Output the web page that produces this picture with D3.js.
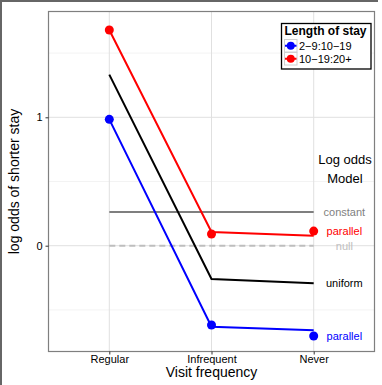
<!DOCTYPE html>
<html><head><meta charset="utf-8">
<script src="https://cdn.jsdelivr.net/npm/d3@7"></script>
<style>
body{margin:0;background:#fff;}
svg{display:block;font-family:"Liberation Sans",Arial,sans-serif;}
</style></head>
<body><svg id="c" width="382" height="385"></svg>
<script>
const categories = ["Regular", "Infrequent", "Never"];
const seriesNames = ["2\u22129:10\u221219", "10\u221219:20+"];
const obsShort = [0.984, -0.618, -0.703];
const obsLong = [1.680, 0.091, 0.114];
const parallelShort = [0.984, -0.631, -0.659];
const parallelLong = [1.680, 0.107, 0.078];
const uniformFit = [1.332, -0.259, -0.293];
const constantFit = [0.262, 0.262, 0.262];
const nullFit = [0, 0, 0];
const yTicks = [0, 1];
const yMinor = [-0.5, 0.5, 1.5];

const svg = d3.select("#c");
const L = 48.5, R = 374.5, T = 11.5, B = 351.5;
const x = d3.scaleLinear().domain([0.405, 3.595]).range([L, R]);
const y = d3.scaleLinear().domain([-0.824, 1.824]).range([B, T]);
const xi = i => x(i + 1);

// outer frame (top & left)
svg.append("line").attr("x1",0).attr("x2",378).attr("y1",1).attr("y2",1).attr("stroke","#666").attr("stroke-width",2);
svg.append("line").attr("x1",1).attr("x2",1).attr("y1",0).attr("y2",385).attr("stroke","#666").attr("stroke-width",2);

// grid
const g = svg.append("g");
yMinor.forEach(v => g.append("line").attr("x1",L).attr("x2",R).attr("y1",y(v)).attr("y2",y(v)).attr("stroke","#f3f3f3").attr("stroke-width",1));
yTicks.forEach(v => g.append("line").attr("x1",L).attr("x2",R).attr("y1",y(v)).attr("y2",y(v)).attr("stroke","#e0e0e0").attr("stroke-width",1));
categories.forEach((c,i) => g.append("line").attr("x1",xi(i)).attr("x2",xi(i)).attr("y1",T).attr("y2",B).attr("stroke","#e0e0e0").attr("stroke-width",1));

// panel border
svg.append("rect").attr("x",L).attr("y",T).attr("width",R-L).attr("height",B-T).attr("fill","none").attr("stroke","#7f7f7f").attr("stroke-width",1.2);

// axes
const xAxis = d3.axisBottom(x).tickValues([1,2,3]).tickFormat(d => categories[d-1]).tickSize(3).tickPadding(1);
const gx = svg.append("g").attr("transform",`translate(0,${B})`).call(xAxis);
gx.select(".domain").remove();
gx.selectAll("text").attr("font-size",11).attr("fill","#000").attr("font-family","Liberation Sans, Arial, sans-serif");
gx.selectAll("line").attr("stroke","#333");
const yAxis = d3.axisLeft(y).tickValues(yTicks).tickFormat(d3.format("d")).tickSize(3).tickPadding(3);
const gy = svg.append("g").attr("transform",`translate(${L},0)`).call(yAxis);
gy.select(".domain").remove();
gy.selectAll("text").attr("font-size",11).attr("fill","#000").attr("font-family","Liberation Sans, Arial, sans-serif");
gy.selectAll("line").attr("stroke","#333");

svg.append("text").attr("x",(L+R)/2).attr("y",377).attr("text-anchor","middle").attr("font-size",14).text("Visit frequency");
svg.append("text").attr("transform",`translate(19,${(T+B)/2}) rotate(-90)`).attr("text-anchor","middle").attr("font-size",14).text("log odds of shorter stay");

const line = d3.line().x((d,i) => xi(i)).y(d => y(d));
function drawLine(data, color, width, dash){
  const p = svg.append("path").datum(data).attr("d",line).attr("fill","none").attr("stroke",color).attr("stroke-width",width);
  if (dash) p.attr("stroke-dasharray",dash);
}
drawLine(nullFit, "#bebebe", 2, "6,4");
drawLine(constantFit, "#7f7f7f", 2);
drawLine(uniformFit, "#000", 2);
drawLine(parallelShort, "#0000ff", 2);
drawLine(parallelLong, "#ff0000", 2);

function drawPts(data, color){
  svg.append("g").selectAll("circle").data(data).join("circle")
    .attr("cx",(d,i)=>xi(i)).attr("cy",d=>y(d)).attr("r",4.5).attr("fill",color);
}
drawPts(obsShort, "#0000ff");
drawPts(obsLong, "#ff0000");

// model labels
const lx = x(3.3);
function lab(v, txt, color, size, dy){
  svg.append("text").attr("x",lx).attr("y",y(v)).attr("dy",dy||"0.35em").attr("text-anchor","middle").attr("font-size",size||11).attr("fill",color).text(txt);
}
lab(constantFit[2], "constant", "#7f7f7f");
lab(obsLong[2], "parallel", "#ff0000");
lab(nullFit[2], "null", "#bebebe");
lab(uniformFit[2], "uniform", "#000");
lab(obsShort[2], "parallel", "#0000ff");
svg.append("text").attr("x",345).attr("y",164).attr("text-anchor","middle").attr("font-size",13).text("Log odds");
svg.append("text").attr("x",345).attr("y",183).attr("text-anchor","middle").attr("font-size",13).text("Model");

// legend
const lg = svg.append("g");
lg.append("rect").attr("x",281.5).attr("y",23.5).attr("width",89.5).attr("height",45.5).attr("fill","#fff").attr("stroke","#000").attr("stroke-width",1.3);
lg.append("text").attr("x",284.5).attr("y",35).attr("font-size",12).attr("font-weight","bold").text("Length of stay");
const colors = ["#0000ff","#ff0000"];
seriesNames.forEach((s,i) => {
  const ky = 39.5 + i*13;
  lg.append("rect").attr("x",284.5).attr("y",ky).attr("width",12.5).attr("height",12.5).attr("fill","#fff").attr("stroke","#d0d0d0").attr("stroke-width",1);
  lg.append("line").attr("x1",285).attr("x2",296.5).attr("y1",ky+6.25).attr("y2",ky+6.25).attr("stroke",colors[i]).attr("stroke-width",2);
  lg.append("circle").attr("cx",290.75).attr("cy",ky+6.25).attr("r",4).attr("fill",colors[i]);
  lg.append("text").attr("x",299).attr("y",ky+6.25).attr("dy","0.35em").attr("font-size",11).text(s);
});
</script></body></html>
